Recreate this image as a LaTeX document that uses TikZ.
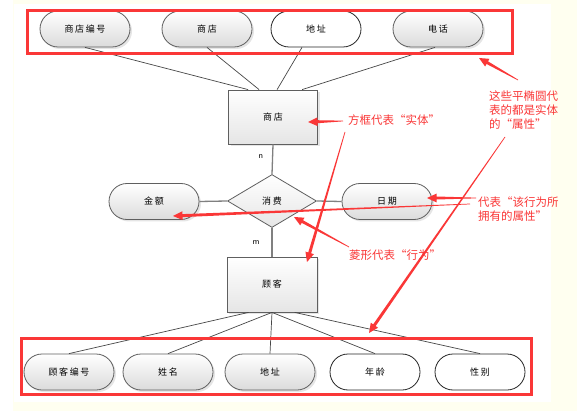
\documentclass[tikz,border=0pt]{standalone}
\usepackage{fontspec}
\setmainfont{Noto Sans CJK SC}
\usetikzlibrary{shapes.misc,shapes.geometric,shadows,calc}
\definecolor{cream}{RGB}{255,255,240}
\definecolor{annred}{RGB}{250,55,55}
\definecolor{edgegray}{RGB}{95,95,95}
\newcommand{\oq}{\makebox[1em][c]{“}}
\newcommand{\cq}{\makebox[1em][c]{”}}
\newcommand{\redarrow}[2]{%
  \coordinate (ta) at (#1);
  \coordinate (th) at (#2);
  \coordinate (tb) at ($(th)!9.5pt!(ta)$);
  \fill[annred] ($(ta)!0.35pt!90:(th)$) -- ($(tb)!1.5pt!90:(th)$) -- ($(tb)!4.4pt!90:(th)$) -- (th)
     -- ($(tb)!4.4pt!-90:(th)$) -- ($(tb)!1.5pt!-90:(th)$) -- ($(ta)!0.35pt!-90:(th)$) -- cycle;}
\tikzset{
  lab/.style={font=\fontsize{9}{9}\selectfont\addfontfeatures{LetterSpace=18}},
  attrbase/.style={rounded rectangle, minimum width=90pt, minimum height=36pt, inner sep=0pt, lab},
  attr/.style={attrbase, draw=edgegray, line width=0.8pt, top color=white, bottom color=black!14,
     drop shadow={shadow xshift=2pt, shadow yshift=-2pt, fill=black!10, opacity=1}},
  attrw/.style={attrbase, draw=black!85, line width=0.8pt, fill=white},
  entity/.style={rectangle, minimum width=89pt, minimum height=54pt, inner sep=0pt,
     draw=edgegray, line width=0.8pt, top color=white, bottom color=black!10,
     drop shadow={shadow xshift=2pt, shadow yshift=-2pt, fill=black!10, opacity=1}, lab},
  relation/.style={diamond, minimum width=89pt, minimum height=53pt, inner sep=0pt,
     draw=edgegray, line width=0.8pt, top color=white, bottom color=black!10, lab},
  conn/.style={draw=black!72, line width=0.7pt},
  vconn/.style={draw=black!50, line width=1.3pt},
  redbox/.style={draw=annred, line width=3pt},
  note/.style={text=annred, font=\fontsize{11.5}{14}\selectfont, align=left, inner sep=0pt},
  card/.style={font=\sffamily\fontsize{8.5}{8.5}\selectfont, inner sep=0pt}
}
\begin{document}
\begin{tikzpicture}[x=1pt,y=-1pt]
\useasboundingbox (0,0) rectangle (577,411);
\fill[white] (0,0) rectangle (577,411);
\fill[cream] (13,0) rectangle (577,411);
\fill[white] (14,4) rectangle (551,402);

% top attributes
\node[attr]  (a1) at (85,29)  {商店编号};
\node[attr]  (a2) at (207,29) {商店};
\node[attrw] (a3) at (316,29) {地址};
\node[attr]  (a4) at (438,29) {电话};

% entities and relation
\node[entity] (shop) at (273,117) {商店};
\node[relation] (buy) at (272,201) {消费};
\node[entity, minimum width=90pt, minimum height=55pt] (cust) at (272,284.5) {顾客};

% side attributes of relation
\node[attr] (amt)  at (154,201.5) {金额};
\node[attr] (date) at (387,201.5) {日期};

% bottom attributes
\node[attr]  (b1) at (69,372)  {顾客编号};
\node[attr]  (b2) at (168,372) {姓名};
\node[attr]  (b3) at (270,372) {地址};
\node[attrw] (b4) at (375,372) {年龄};
\node[attrw] (b5) at (480,372) {性别};

% connectors
\draw[conn] (a1.south) -- ($(shop.north west)+(20,0)$);
\draw[conn] (a2.south) -- ($(shop.north west)+(31,0)$);
\draw[conn] ($(a3.south)+(-14,0)$) -- ($(shop.north west)+(49,0)$);
\draw[conn] ($(a4.south)+(-3,0)$) -- ($(shop.north west)+(74,0)$);
\draw[vconn] (shop.south) -- (buy.north);
\draw[vconn] (buy.south) -- (cust.north);
\draw[vconn] (amt.east) -- (buy.west);
\draw[vconn] (buy.east) -- (date.west);
\draw[conn] ($(cust.south west)+(22,0)$) -- (b1.north);
\draw[conn] (cust.south) -- (b2.north);
\draw[conn] (cust.south) -- (b3.north);
\draw[conn] (cust.south) -- (b4.north);
\draw[conn] ($(cust.south west)+(68,0)$) -- (b5.north);

\node[card] (nlab) at (261,157) {n};
\node[card] (mlab) at (256,243) {m};

% red boxes
\draw[redbox] (27.5,10.5) rectangle (512,54);
\draw[redbox] (21.5,338.5) rectangle (531.5,394.5);

% notes
\node[note, anchor=west] (n1) at (348,120) {方框代表\oq 实体\cq};
\node[note, anchor=west] (n2) at (489,110) {这些平椭圆代\\表的都是实体\\的\oq 属性\cq};
\node[note, anchor=west] (n3) at (478,209) {代表\oq 该行为所\\拥有的属性\cq};
\node[note, anchor=west] (n4) at (349,255) {菱形代表\oq 行为\cq};

% red arrows
\redarrow{343,121}{308,122}
\redarrow{345,132}{307,262}
\redarrow{518,80}{479,58}
\redarrow{505,137}{369,333}
\redarrow{476,198}{427,198}
\redarrow{470,204}{173,216}
\redarrow{349,247}{294,217}
\end{tikzpicture}
\end{document}
